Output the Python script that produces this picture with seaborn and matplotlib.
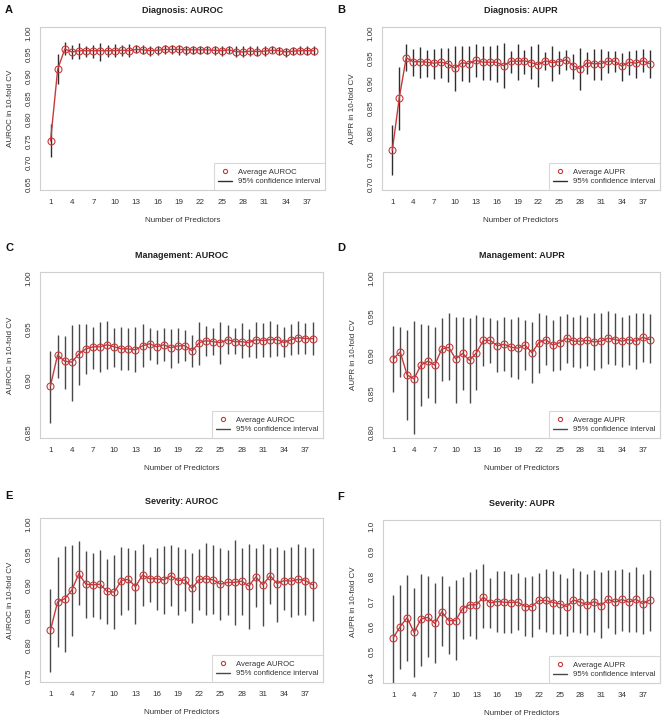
import numpy as np
import pandas as pd
import matplotlib
matplotlib.use("Agg")
import matplotlib.pyplot as plt
from matplotlib.lines import Line2D
import seaborn as sns

predictors = list(range(1, 39))
x_ticks = [1, 4, 7, 10, 13, 16, 19, 22, 25, 28, 31, 34, 37]

# ---- A: Diagnosis AUROC ----
diag_auroc = [0.750, 0.916, 0.963, 0.956, 0.959, 0.959, 0.959, 0.959, 0.959, 0.959,
              0.960, 0.959, 0.962, 0.961, 0.959, 0.960, 0.962, 0.962, 0.962, 0.961,
              0.961, 0.961, 0.961, 0.960, 0.959, 0.961, 0.957, 0.956, 0.958, 0.957,
              0.958, 0.960, 0.959, 0.956, 0.958, 0.959, 0.959, 0.959]
diag_auroc_hi = [0.789, 0.951, 0.980, 0.973, 0.977, 0.970, 0.973, 0.978, 0.973, 0.974,
                 0.973, 0.975, 0.973, 0.973, 0.970, 0.970, 0.973, 0.973, 0.973, 0.971,
                 0.970, 0.970, 0.969, 0.970, 0.969, 0.969, 0.969, 0.969, 0.969, 0.969,
                 0.969, 0.969, 0.967, 0.965, 0.967, 0.969, 0.969, 0.969]
diag_auroc_lo = [0.712, 0.881, 0.950, 0.939, 0.939, 0.945, 0.943, 0.936, 0.945, 0.944,
                 0.947, 0.944, 0.953, 0.952, 0.947, 0.949, 0.951, 0.951, 0.949, 0.949,
                 0.951, 0.951, 0.951, 0.949, 0.947, 0.953, 0.945, 0.944, 0.947, 0.947,
                 0.947, 0.953, 0.949, 0.945, 0.948, 0.951, 0.949, 0.949]

# ---- B: Diagnosis AUPR ----
diag_aupr = [0.767, 0.871, 0.951, 0.943, 0.943, 0.942, 0.940, 0.942, 0.939, 0.930,
             0.941, 0.939, 0.946, 0.942, 0.942, 0.942, 0.935, 0.944, 0.944, 0.945,
             0.941, 0.937, 0.945, 0.941, 0.943, 0.947, 0.935, 0.929, 0.941, 0.939,
             0.939, 0.944, 0.944, 0.934, 0.942, 0.940, 0.945, 0.939]
diag_aupr_hi = [0.817, 0.932, 0.979, 0.969, 0.972, 0.967, 0.969, 0.971, 0.971, 0.975,
                0.975, 0.975, 0.978, 0.975, 0.975, 0.976, 0.981, 0.964, 0.978, 0.966,
                0.975, 0.979, 0.962, 0.975, 0.964, 0.966, 0.958, 0.971, 0.962, 0.969,
                0.969, 0.965, 0.964, 0.961, 0.964, 0.966, 0.968, 0.966]
diag_aupr_lo = [0.717, 0.808, 0.924, 0.915, 0.911, 0.913, 0.909, 0.911, 0.903, 0.885,
                0.904, 0.902, 0.913, 0.906, 0.906, 0.903, 0.890, 0.921, 0.906, 0.919,
                0.909, 0.893, 0.927, 0.904, 0.919, 0.927, 0.909, 0.887, 0.919, 0.907,
                0.907, 0.921, 0.922, 0.904, 0.916, 0.911, 0.922, 0.911]

# ---- C: Management AUROC ----
mgmt_auroc = [0.895, 0.925, 0.919, 0.918, 0.926, 0.931, 0.933, 0.933, 0.935, 0.933,
              0.931, 0.931, 0.930, 0.934, 0.936, 0.933, 0.935, 0.932, 0.934, 0.934,
              0.929, 0.937, 0.939, 0.938, 0.937, 0.940, 0.938, 0.938, 0.937, 0.940,
              0.939, 0.940, 0.940, 0.937, 0.940, 0.942, 0.941, 0.941]
mgmt_auroc_hi = [0.929, 0.945, 0.944, 0.954, 0.955, 0.955, 0.952, 0.957, 0.958, 0.951,
                 0.952, 0.951, 0.952, 0.955, 0.951, 0.949, 0.951, 0.950, 0.951, 0.949,
                 0.945, 0.957, 0.953, 0.951, 0.957, 0.954, 0.951, 0.956, 0.950, 0.957,
                 0.956, 0.958, 0.955, 0.952, 0.955, 0.958, 0.956, 0.957]
mgmt_auroc_lo = [0.859, 0.903, 0.892, 0.880, 0.896, 0.906, 0.911, 0.908, 0.911, 0.913,
                 0.910, 0.910, 0.908, 0.913, 0.920, 0.916, 0.919, 0.912, 0.917, 0.919,
                 0.913, 0.915, 0.924, 0.925, 0.916, 0.926, 0.926, 0.922, 0.923, 0.922,
                 0.923, 0.923, 0.924, 0.923, 0.925, 0.926, 0.926, 0.925]

# ---- D: Management AUPR ----
mgmt_aupr = [0.895, 0.904, 0.874, 0.869, 0.887, 0.892, 0.887, 0.908, 0.910, 0.895,
             0.902, 0.893, 0.903, 0.919, 0.919, 0.912, 0.914, 0.910, 0.909, 0.913,
             0.903, 0.916, 0.920, 0.913, 0.916, 0.922, 0.918, 0.918, 0.919, 0.917,
             0.918, 0.922, 0.920, 0.918, 0.920, 0.918, 0.923, 0.920]
mgmt_aupr_hi = [0.938, 0.936, 0.933, 0.944, 0.940, 0.939, 0.936, 0.948, 0.955, 0.949,
                0.949, 0.948, 0.952, 0.950, 0.948, 0.946, 0.949, 0.947, 0.949, 0.946,
                0.943, 0.954, 0.952, 0.946, 0.951, 0.953, 0.950, 0.952, 0.950, 0.955,
                0.954, 0.957, 0.954, 0.950, 0.952, 0.954, 0.954, 0.953]
mgmt_aupr_lo = [0.852, 0.872, 0.815, 0.797, 0.833, 0.844, 0.838, 0.866, 0.867, 0.838,
                0.855, 0.837, 0.854, 0.886, 0.889, 0.878, 0.879, 0.872, 0.869, 0.880,
                0.863, 0.877, 0.887, 0.879, 0.880, 0.890, 0.885, 0.883, 0.886, 0.880,
                0.883, 0.888, 0.887, 0.884, 0.887, 0.882, 0.891, 0.889]

# ---- E: Severity AUROC ----
sev_auroc = [0.825, 0.872, 0.877, 0.891, 0.918, 0.901, 0.900, 0.901, 0.889, 0.888,
             0.907, 0.909, 0.897, 0.916, 0.910, 0.910, 0.908, 0.915, 0.907, 0.908,
             0.894, 0.909, 0.910, 0.908, 0.901, 0.904, 0.904, 0.906, 0.898, 0.913,
             0.900, 0.915, 0.902, 0.907, 0.906, 0.909, 0.907, 0.900]
sev_auroc_hi = [0.893, 0.946, 0.964, 0.965, 0.972, 0.956, 0.953, 0.958, 0.942, 0.949,
                0.962, 0.961, 0.958, 0.967, 0.946, 0.961, 0.964, 0.965, 0.963, 0.959,
                0.953, 0.959, 0.969, 0.966, 0.960, 0.957, 0.973, 0.960, 0.968, 0.960,
                0.967, 0.960, 0.963, 0.957, 0.963, 0.968, 0.963, 0.960]
sev_auroc_lo = [0.757, 0.798, 0.789, 0.815, 0.867, 0.846, 0.847, 0.844, 0.835, 0.827,
                0.850, 0.858, 0.836, 0.865, 0.872, 0.858, 0.852, 0.865, 0.850, 0.857,
                0.837, 0.858, 0.850, 0.852, 0.842, 0.851, 0.834, 0.851, 0.828, 0.864,
                0.833, 0.868, 0.839, 0.858, 0.847, 0.850, 0.850, 0.841]

# ---- F: Severity AUPR ----
sev_aupr = [0.556, 0.600, 0.636, 0.577, 0.630, 0.637, 0.613, 0.659, 0.624, 0.624,
            0.672, 0.687, 0.687, 0.717, 0.694, 0.700, 0.697, 0.696, 0.697, 0.680,
            0.680, 0.704, 0.704, 0.696, 0.691, 0.680, 0.706, 0.697, 0.687, 0.700,
            0.684, 0.709, 0.697, 0.708, 0.697, 0.709, 0.691, 0.706]
sev_aupr_hi = [0.727, 0.766, 0.805, 0.752, 0.810, 0.800, 0.775, 0.800, 0.760, 0.785,
               0.797, 0.816, 0.828, 0.848, 0.792, 0.821, 0.820, 0.811, 0.814, 0.797,
               0.801, 0.814, 0.828, 0.821, 0.811, 0.795, 0.835, 0.820, 0.808, 0.824,
               0.818, 0.824, 0.824, 0.830, 0.818, 0.836, 0.811, 0.826]
sev_aupr_lo = [0.370, 0.432, 0.463, 0.400, 0.445, 0.481, 0.455, 0.522, 0.490, 0.466,
               0.549, 0.561, 0.549, 0.596, 0.593, 0.580, 0.576, 0.576, 0.586, 0.561,
               0.558, 0.590, 0.580, 0.570, 0.570, 0.563, 0.580, 0.576, 0.566, 0.580,
               0.554, 0.593, 0.570, 0.583, 0.580, 0.580, 0.570, 0.583]

panels = [
    ("A", "Diagnosis: AUROC", "AUROC", diag_auroc, diag_auroc_lo, diag_auroc_hi, (0.65, 1.00), 0.05, "{:.2f}"),
    ("B", "Diagnosis: AUPR", "AUPR", diag_aupr, diag_aupr_lo, diag_aupr_hi, (0.70, 1.00), 0.05, "{:.2f}"),
    ("C", "Management: AUROC", "AUROC", mgmt_auroc, mgmt_auroc_lo, mgmt_auroc_hi, (0.85, 1.00), 0.05, "{:.2f}"),
    ("D", "Management: AUPR", "AUPR", mgmt_aupr, mgmt_aupr_lo, mgmt_aupr_hi, (0.80, 1.00), 0.05, "{:.2f}"),
    ("E", "Severity: AUROC", "AUROC", sev_auroc, sev_auroc_lo, sev_auroc_hi, (0.75, 1.00), 0.05, "{:.2f}"),
    ("F", "Severity: AUPR", "AUPR", sev_aupr, sev_aupr_lo, sev_aupr_hi, (0.40, 1.00), 0.10, "{:.1f}"),
]

sns.set_style("white")
plt.rcParams['font.family'] = ['Liberation Sans', 'DejaVu Sans']

W, H = 669, 725
fig = plt.figure(figsize=(W / 100, H / 100), dpi=100)

# axes boxes in pixel coords: (left, top, right, bottom)
boxes = [
    (40, 27, 325, 190),
    (382, 27, 660, 190),
    (40, 272, 323, 438),
    (383, 272, 660, 438),
    (40, 518, 323, 682),
    (383, 520, 660, 683),
]
letter_pos = [(5, 10), (337, 10), (5, 248), (337, 248), (5, 496), (337, 497)]

red = "#c8393b"
ci_cols = ["#2e2e2e", "#2e2e2e", "#484848", "#484848", "#484848", "#484848"]
box_col = "#cfcfcf"
txt_col = "#333333"

for i, ((letter, title, metric, mean, lo, hi, ylim, step, fmt), (l, t, r, b), (lx, ly)) in enumerate(zip(panels, boxes, letter_pos)):
    ci_col = ci_cols[i]
    ax = fig.add_axes([l / W, 1 - b / H, (r - l) / W, (b - t) / H])
    df = pd.DataFrame({"n": predictors, "mean": mean, "lo": lo, "hi": hi})
    ax.vlines(df["n"], df["lo"], df["hi"], color=ci_col, lw=1.0, zorder=2)
    sns.lineplot(data=df, x="n", y="mean", ax=ax, color=red, lw=1.0, marker="o",
                 markersize=5, markerfacecolor="none", markeredgecolor=red,
                 markeredgewidth=0.8, zorder=3)
    pad_x = 37 * 0.04
    ax.set_xlim(1 - pad_x, 38 + pad_x)
    pad_y = (ylim[1] - ylim[0]) * 0.04
    ax.set_ylim(ylim[0] - pad_y, ylim[1] + pad_y)
    yt = np.arange(ylim[0], ylim[1] + step / 2, step)
    ax.set_yticks(yt)
    ax.set_yticklabels([fmt.format(v) for v in yt], rotation=90, va="center")
    ax.set_xticks(x_ticks)
    ax.set_xticklabels([str(v) for v in x_ticks])
    ax.tick_params(axis="both", direction="out", length=3.5, width=0.7, color="#888888",
                   labelsize=5.8, labelcolor=txt_col, pad=3)
    ax.tick_params(axis="y", pad=2)
    for s in ax.spines.values():
        s.set_color(box_col)
        s.set_linewidth(0.8)
    ax.set_xlabel("Number of Predictors", fontsize=5.8, color=txt_col)
    ax.set_ylabel(f"{metric} in 10-fold CV", fontsize=5.8, color=txt_col)
    ax.xaxis.set_label_coords(0.5, -27 / (b - t))
    ax.yaxis.set_label_coords(-26 / (r - l), 0.5)
    ax.set_title(title, fontsize=6.5, fontweight="bold", color="#222222", pad=10)
    handles = [
        Line2D([], [], ls="none", marker="o", markersize=3, markerfacecolor="none",
               markeredgecolor=red, markeredgewidth=0.8),
        Line2D([], [], color=ci_col, lw=1.0),
    ]
    leg = ax.legend(handles, [f"Average {metric}", "95% confidence interval"],
                    loc="lower right", fontsize=5.6, frameon=True, fancybox=False,
                    borderaxespad=0, handlelength=1.7, handletextpad=0.8,
                    borderpad=0.6, labelspacing=0.3)
    leg.get_frame().set_edgecolor(box_col)
    leg.get_frame().set_linewidth(0.8)
    for txt in leg.get_texts():
        txt.set_color(txt_col)
    fig.text(lx / W, 1 - ly / H, letter, fontsize=8, fontweight="bold", va="center",
             ha="left", color="#111111")

fig.savefig("out.png", dpi=100, facecolor="white")
